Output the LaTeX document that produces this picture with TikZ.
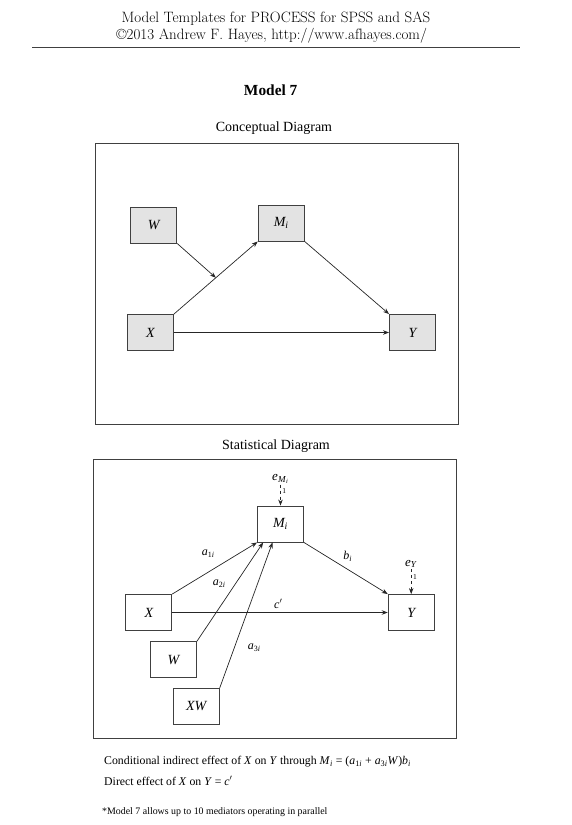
\documentclass[tikz,border=0pt]{standalone}
\usepackage{fontspec}
\setmainfont{Liberation Serif}
\usetikzlibrary{arrows.meta,positioning,calc}

\newcommand{\lmrfont}{\fontencoding{TU}\fontfamily{lmr}\selectfont}
\newcommand{\iv}[1]{\textit{#1}}
\newcommand{\Mi}{\textit{M}\textsubscript{\textit{i}}}

\tikzset{
  var/.style={rectangle, draw=black!75, line width=0.9pt,
              minimum width=46pt, minimum height=36pt, inner sep=0pt,
              font=\fontsize{14}{16}\selectfont\itshape},
  cvar/.style={var, fill=black!11},
  panel/.style={draw=black!75, line width=0.9pt},
  arr/.style={-{Stealth[length=6pt,width=4.5pt]}, line width=0.7pt, draw=black!85},
  errarr/.style={arr, dashed},
  coef/.style={font=\fontsize{12}{14}\selectfont, inner sep=1pt},
  errlbl/.style={font=\fontsize{13}{15}\selectfont, inner sep=1pt},
  one/.style={font=\fontsize{7.5}{8}\selectfont, inner sep=1.5pt},
  header/.style={font=\fontsize{15}{17}\lmrfont},
  heading/.style={font=\fontsize{14}{16}\selectfont},
  notetext/.style={font=\fontsize{11.8}{14}\selectfont, anchor=west, inner sep=0pt}
}

\begin{document}
\begin{tikzpicture}[x=1pt, y=-1pt]
  \useasboundingbox (0,0) rectangle (572,825);

  % Page header
  \node[header] (hd1) at (276,19) {Model Templates for PROCESS for SPSS and SAS};
  \node[header] (hd2) at (271.7,36) {\textcopyright2013 Andrew F. Hayes, http://www.afhayes.com/};
  \draw[line width=1pt, black!75] (32,47.7) -- (520,47.7);

  \node[font=\fontsize{15.4}{18}\selectfont\bfseries] (model) at (270.7,90) {Model 7};

  % Conceptual diagram
  \node[heading] (ctitle) at (274,128.3) {Conceptual Diagram};
  \draw[panel] (95,143) rectangle (458,424);

  \node[cvar] (cW) at (153.7,225)   {W};
  \node[cvar] (cM) at (281.2,223)   {\Mi};
  \node[cvar] (cX) at (150.5,332.5) {X};
  \node[cvar] (cY) at (412.5,332.5) {Y};

  \draw[arr] (cX.north east) -- coordinate[pos=0.5] (cmid) (cM.south west);
  \draw[arr] (cM.south east) -- (cY.north west);
  \draw[arr] (cX) -- (cY);
  \draw[arr] (cW.south east) -- (cmid);

  % Statistical diagram
  \node[heading] (stitle) at (276,446) {Statistical Diagram};
  \draw[panel] (93.3,459.7) rectangle (456,738.3);

  \node[var] (sM)  at (280.5,524)   {\Mi};
  \node[var] (sX)  at (148.8,612.5) {X};
  \node[var] (sY)  at (411.2,612.5) {Y};
  \node[var] (sW)  at (173.5,659.7) {W};
  \node[var] (sXW) at (196.3,706.3) {XW};

  % error terms
  \node[errlbl] (eM) at (280.5,479) {\iv{e}\textsubscript{\Mi}};
  \node[errlbl] (eY) at (411.2,564) {\iv{e}\textsubscript{\iv{Y}}};
  \draw[errarr] (eM) -- (sM) node[one, pos=0.3, right] {1};
  \draw[errarr] (eY) -- (sY) node[one, pos=0.3, right] {1};

  % paths
  \draw[arr] (sX.north east)  -- (sM.south west);
  \draw[arr] (sW.north east)  -- ($(sM.south west)!0.13!(sM.south east)$);
  \draw[arr] (sXW.north east) -- ($(sM.south west)!0.33!(sM.south east)$);
  \draw[arr] (sM.south east)  -- (sY.north west);
  \draw[arr] (sX) -- (sY);

  \node[coef] (la1) at (208.3,554)   {\iv{a}\textsubscript{1\iv{i}}};
  \node[coef] (la2) at (219.3,583.3) {\iv{a}\textsubscript{2\iv{i}}};
  \node[coef] (la3) at (254.3,647.7) {\iv{a}\textsubscript{3\iv{i}}};
  \node[coef] (lb)  at (347.7,556.7) {\iv{b}\textsubscript{\iv{i}}};
  \node[coef] (lc)  at (278.3,604)   {\iv{c}$'$};

  % Effects
  \node[notetext] (ind) at (104,761.7) {Conditional indirect effect of \iv{X} on \iv{Y} through \Mi{} = (\iv{a}\textsubscript{1\iv{i}} + \iv{a}\textsubscript{3\iv{i}}\iv{W})\iv{b}\textsubscript{\iv{i}}};
  \node[notetext] (dir) at (104,780.7) {Direct effect of \iv{X} on \iv{Y} = \iv{c}$'$};
  \node[notetext, font=\fontsize{9.9}{11}\selectfont] (fn) at (102,811.7) {*Model 7 allows up to 10 mediators operating in parallel};
\end{tikzpicture}
\end{document}
